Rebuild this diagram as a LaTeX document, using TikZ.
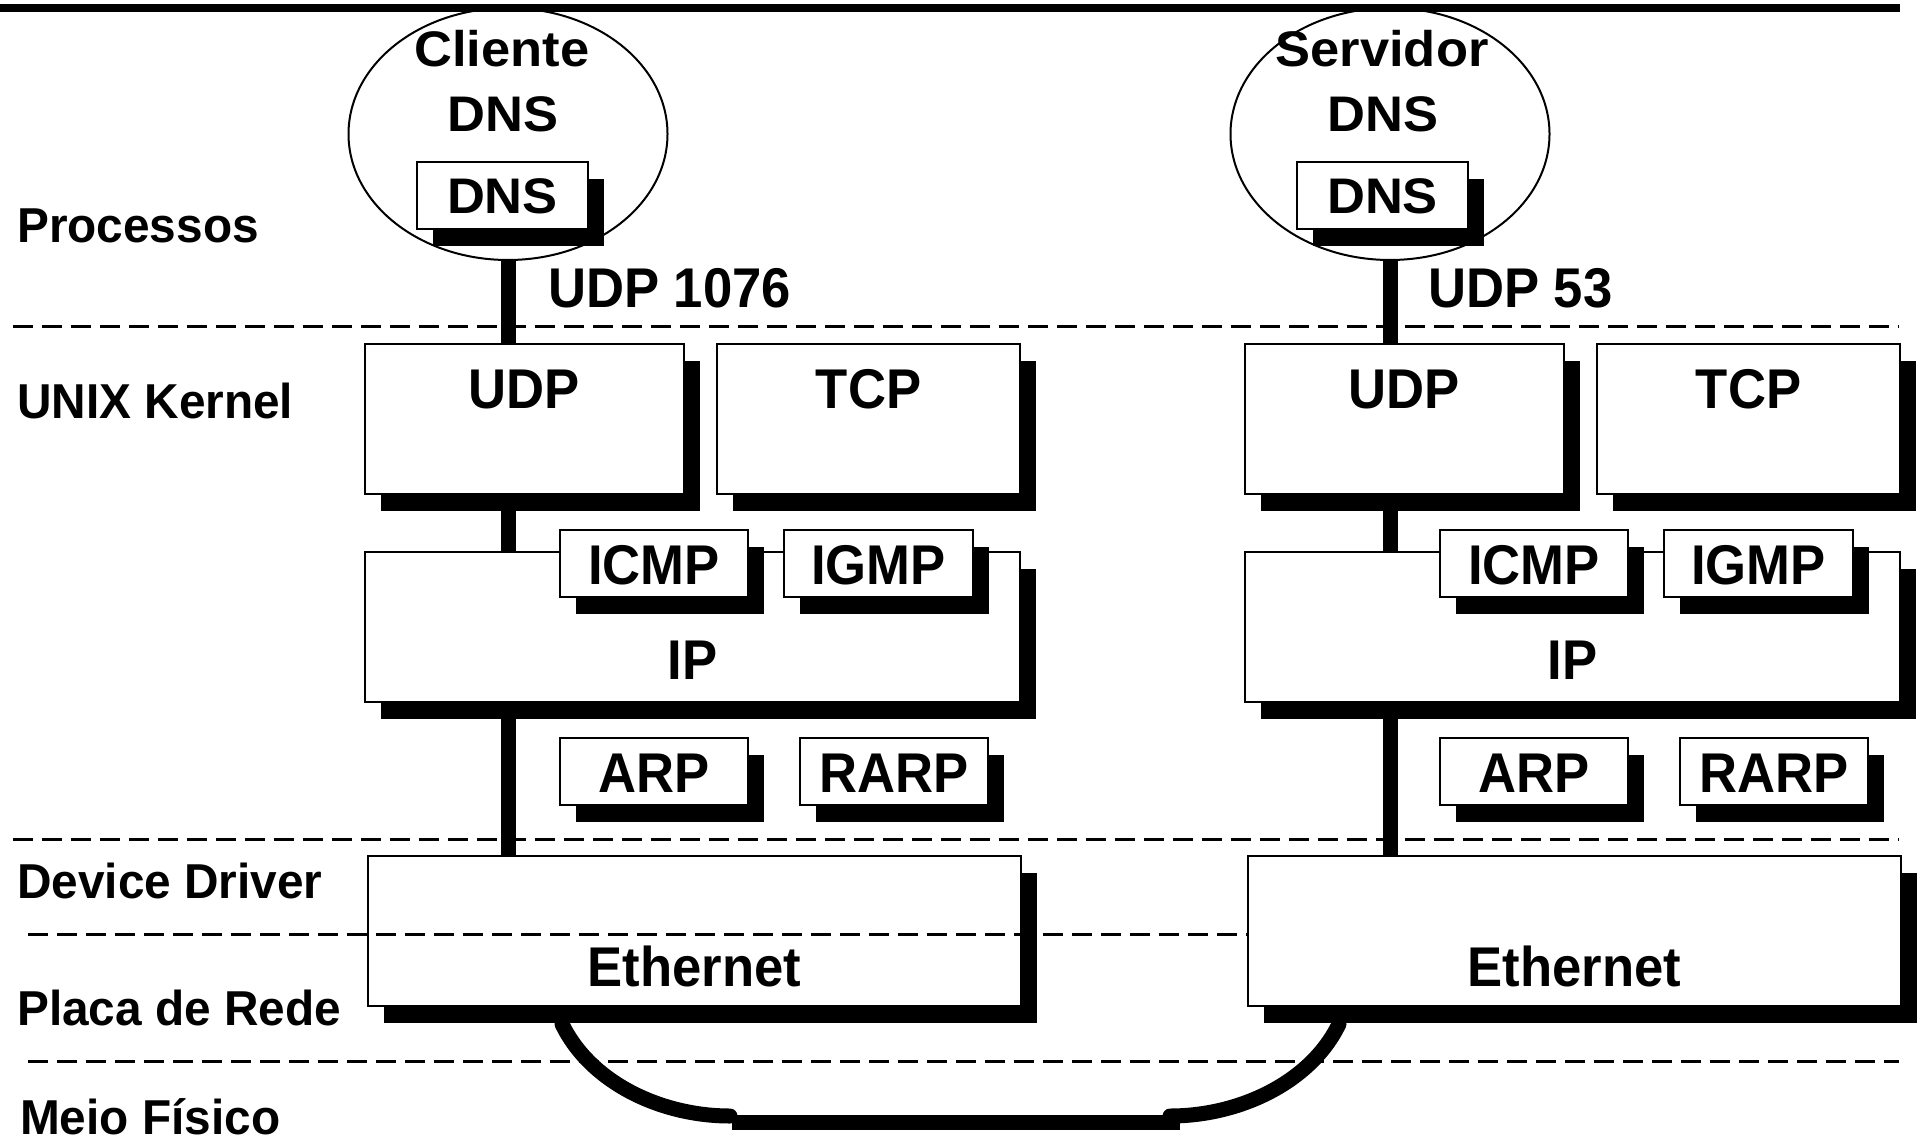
\documentclass[tikz,border=0pt]{standalone}
\usepackage{fontspec}
\usetikzlibrary{shapes.geometric,shadows,calc}
\newfontfamily\boxfont[FakeStretch=0.94]{Liberation Sans}
\newfontfamily\procfont[FakeStretch=1.05]{Liberation Sans}
\newfontfamily\layerfont[FakeStretch=0.975]{Liberation Sans}

\tikzset{
	stackbox/.style={draw, line width=2pt, fill=white, inner sep=0pt, anchor=north west,
		font=\boxfont\bfseries\fontsize{56}{60}\selectfont,
		drop shadow={shadow xshift=16pt, shadow yshift=-17pt, fill=black, opacity=1}},
	proc/.style={ellipse, draw, line width=2pt, inner sep=0pt, minimum width=319pt, minimum height=252pt},
	tag/.style={inner sep=0pt, anchor=base, font=\boxfont\bfseries\fontsize{56}{60}\selectfont},
	proctag/.style={font=\procfont\bfseries\fontsize{50}{54}\selectfont},
	layer/.style={inner sep=0pt, anchor=base west, font=\layerfont\bfseries\fontsize{49}{54}\selectfont},
	sep/.style={line width=3pt, dash pattern=on 20pt off 9pt},
	stack/.style={line width=15pt},
	cable/.style={line width=15pt},
}

\begin{document}
\begin{tikzpicture}[x=1pt, y=-1pt]
	\useasboundingbox (0,0) rectangle (1921,1139);
	% \stackbox#name#x#y#width#above#below#text
	\def\stackbox#1#2#3#4#5#6#7{
		\node[stackbox, minimum width=#4pt, text height=#5pt, text depth=#6pt] (#1) at (#2, #3) {#7};
	}

	% top rule and layer borders
	\draw[line width=8pt] (0,8) -- (1900,8);
	\draw[sep] (13,327) -- (1899,327);
	\draw[sep] (13,839) -- (1899,839);
	\draw[sep] (28,1061) -- (1899,1061);

	% layer names
	\node[layer] (lproc) at (17,243) {Processos};
	\node[layer] (lkern) at (17,418) {UNIX Kernel};
	\node[layer] (ldrv) at (17,898) {Device Driver};
	\node[layer] (lcard) at (17,1025) {Placa de Rede};
	\node[layer] (lmedia) at (20,1134) {Meio Físico};

	% client and server stacks
	\foreach \off/\h/\who/\port/\lx in {0/C/Cliente/1076/508, 880/S/Servidor/53/1390} {
		\node[proc] (host\h) at (\lx, 134) {};
		\node[tag, proctag] (who\h) at (502+\off, 67) {\who};
		\node[tag, proctag] (name\h) at (503+\off, 132) {DNS};
		\stackbox{dns\h}{416+\off}{161}{171}{52}{15}{\procfont\fontsize{50}{54}\selectfont DNS}
		\node[tag, anchor=base west] (port\h) at (548+\off, 308) {UDP \port};

		\stackbox{udp\h}{364+\off}{343}{319}{64}{86}{UDP}
		\stackbox{tcp\h}{716+\off}{343}{303}{64}{86}{TCP}
		\stackbox{ip\h}{364+\off}{551}{655}{127}{23}{IP}
		\stackbox{icmp\h}{559+\off}{529}{188}{54}{13}{ICMP}
		\stackbox{igmp\h}{783+\off}{529}{189}{54}{13}{IGMP}
		\stackbox{arp\h}{559+\off}{737}{188}{54}{13}{ARP}
		\stackbox{rarp\h}{799+\off}{737}{188}{54}{13}{RARP}
		\stackbox{eth\h}{367+\off}{855}{653}{130}{20}{Ethernet}

		\draw[stack] (host\h.south) -- (udp\h.north -| host\h);
		\draw[stack] (udp\h.south -| host\h) -- (ip\h.north -| host\h);
		\draw[stack] (ip\h.south -| host\h) -- (eth\h.north -| host\h);
	}

	% border between driver and card, over the client card
	\coordinate (sepD) at (28,934);
	\draw[sep] (sepD) -- (sepD -| ethS.west);

	% cable between both cards
	\draw[cable, line cap=round] ($(ethC.south west)+(195,17)$) .. controls +(28,58) and +(-70,0) .. ($(ethC.south west)+(363,109)$) coordinate (cabC);
	\draw[cable, line cap=round] ($(ethS.south west)+(92,17)$) .. controls +(-28,58) and +(70,0) .. ($(ethS.south west)+(-77,109)$) coordinate (cabS);
	\draw[cable] ($(cabC)+(2,6)$) -- ($(cabS)+(10,6)$);
\end{tikzpicture}
\end{document}
